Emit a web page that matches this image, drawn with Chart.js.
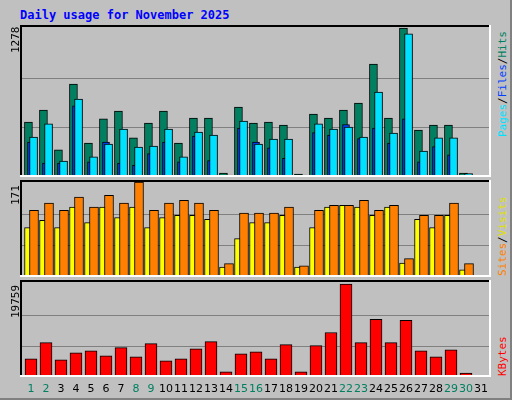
<!DOCTYPE html>
<html><head><meta charset="utf-8">
<script src="https://cdn.jsdelivr.net/npm/chart.js@4/dist/chart.umd.min.js"></script>
<style>
body{margin:0;background:#fff}
#wrap{position:relative;width:510px;height:398px;background:#c0c0c0;border-right:2px solid #808080;border-bottom:2px solid #808080;overflow:hidden}
.c{position:absolute}
.t{position:absolute;font-family:"DejaVu Sans Mono",monospace;font-size:11px;white-space:nowrap}
.rot{transform-origin:0 0;transform:rotate(-90deg)}
.day{position:absolute;top:382px;font-family:"DejaVu Sans",sans-serif;font-size:11px;width:20px;text-align:center}
</style></head><body>
<div id="wrap">
<div class="t" style="left:20px;top:8px;font-weight:bold;font-size:12px;color:#0000ff">Daily usage for November 2025</div>
<canvas id="c1" class="c" style="left:20px;top:25px"></canvas>
<canvas id="c2" class="c" style="left:20px;top:180px"></canvas>
<canvas id="c3" class="c" style="left:20px;top:280px"></canvas>
<div class="t rot" style="left:9px;top:53px">1278</div>
<div class="t rot" style="left:9px;top:205px">171</div>
<div class="t rot" style="left:9px;top:318px">19759</div>
<div class="t rot" style="left:496px;top:137px"><span style="color:#00e0ff">Pages</span>/<span style="color:#0040ff">Files</span>/<span style="color:#008060">Hits</span></div>
<div class="t rot" style="left:496px;top:276px"><span style="color:#ff8000">Sites</span>/<span style="color:#e0e000">Visits</span></div>
<div class="t rot" style="left:496px;top:376px;color:#ff0000">KBytes</div>
<div id="days"></div>
</div>
<script>
const days=[1,2,3,4,5,6,7,8,9,10,11,12,13,14,15,16,17,18,19,20,21,22,23,24,25,26,27,28,29,30,31];
const weekend=[1,2,8,9,15,16,22,23,29,30];
const hits=[472,575,232,798,292,498,566,335,463,566,292,506,506,34,600,463,472,446,26,540,506,575,635,969,506,1278,403,446,446,34];
const files=[343,455,137,669,172,283,412,257,266,412,172,386,360,17,480,283,326,326,17,455,412,429,343,729,377,1227,223,335,335,30];
const pages=[300,120,120,610,130,300,120,100,200,300,130,350,140,12,420,300,250,160,10,380,360,450,330,420,290,500,130,260,190,15];
const visits=[89,102,89,126,98,126,107,126,89,107,111,111,104,18,69,98,98,111,18,89,126,129,126,111,126,25,104,89,111,13];
const sites=[120,133,120,144,126,147,133,171,120,133,138,133,120,24,115,115,115,126,20,120,129,129,138,120,129,33,111,111,133,24];
const kbytes=[3866,7303,3651,5155,5585,4510,6229,4296,7088,3437,3866,6014,7518,1074,4940,5370,3866,6873,1074,6658,9451,19759,7303,12243,7303,12028,5585,4296,5799,859];

const dl=document.getElementById('days');
days.forEach(d=>{const e=document.createElement('div');e.className='day';e.style.left=(16+15*d-10)+'px';
 e.style.color=weekend.includes(d)?'#008060':'#000';e.textContent=d;dl.appendChild(e);});

function pts(arr,off){return arr.map((v,i)=>({x:days[i]+off,y:v}));}
const frame={id:'frame',beforeDatasetsDraw(ch,a,o){const c=ch.ctx,y=ch.scales.y,w=ch.width,h=ch.height;
  c.save();c.strokeStyle='#808080';c.lineWidth=1;
  [1,2].forEach(k=>{const py=Math.round(y.getPixelForValue(o.top*k/3))+0.5;c.beginPath();c.moveTo(0,py);c.lineTo(w,py);c.stroke();});
  c.restore();},
 afterDraw(ch){const c=ch.ctx,w=ch.width,h=ch.height;c.save();c.lineWidth=2;
  c.strokeStyle='#000';c.beginPath();c.moveTo(1,h);c.lineTo(1,1);c.lineTo(w,1);c.stroke();
  c.strokeStyle='#fff';c.beginPath();c.moveTo(w-1,0);c.lineTo(w-1,h-1);c.lineTo(0,h-1);c.stroke();c.restore();}};
function mk(id,h,ymax,top,sets){const cv=document.getElementById(id);cv.width=471;cv.height=h;
 return new Chart(cv,{type:'bar',data:{datasets:sets.map(s=>({data:pts(s.d,s.off),backgroundColor:s.c,borderColor:'#000',borderWidth:1,barThickness:s.w,order:s.o,grouped:false,borderSkipped:'bottom'}))},
 options:{responsive:false,animation:false,devicePixelRatio:1,layout:{padding:0},
  plugins:{legend:{display:false},tooltip:{enabled:false},frame:{top:top}},
  scales:{x:{type:'linear',offset:false,bounds:'ticks',min:0.267,max:31.667,display:false},y:{min:0,max:ymax,display:false}}},plugins:[frame]});}
mk('c1',152,1278*152/149,1278,[{d:hits,off:-0.17,c:'#008060',w:8,o:3},{d:pages,off:0,c:'#0040ff',w:7,o:2},{d:files,off:0.17,c:'#00e0ff',w:8,o:1}]);
mk('c2',97,171*96/94,171,[{d:visits,off:-0.23,c:'#ffff00',w:6,o:2},{d:sites,off:0.2,c:'#ff8000',w:9,o:1}]);
mk('c3',97,19759*96/92,19759,[{d:kbytes,off:0,c:'#ff0000',w:12,o:1}]);
</script></body></html>
